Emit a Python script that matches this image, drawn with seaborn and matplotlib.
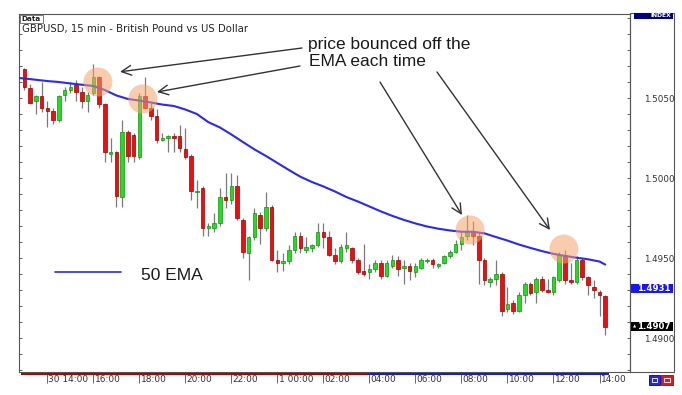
import numpy as np
import pandas as pd
import matplotlib
matplotlib.use("Agg")
import matplotlib.pyplot as plt
import matplotlib.transforms as mtransforms
from matplotlib.patches import Rectangle, Ellipse
from matplotlib.ticker import FixedLocator, MultipleLocator, FormatStrFormatter
import seaborn as sns

sns.set_theme(style="white")
plt.rcParams['font.family'] = ['DejaVu Sans']

# GBPUSD 15 min bars, first bar = 30th 13:00
opens = [1.5068, 1.5056, 1.5048, 1.5051, 1.5044, 1.5042, 1.5036, 1.5052, 1.5055, 1.5058,
         1.5054, 1.5048, 1.5053, 1.5063, 1.5046, 1.5015, 1.5016, 1.4988, 1.5029, 1.5027,
         1.5013, 1.5051, 1.5044, 1.5039, 1.5024, 1.5025, 1.5026, 1.5026, 1.5018, 1.5014,
         1.4991, 1.4994, 1.4969, 1.4969, 1.4972, 1.4988, 1.4986, 1.4995, 1.4974, 1.4953,
         1.4963, 1.4977, 1.4969, 1.4982, 1.4949, 1.4947, 1.4948, 1.4955, 1.4964, 1.4955,
         1.4956, 1.4958, 1.4966, 1.4963, 1.4952, 1.4948, 1.4956, 1.4956, 1.4949, 1.4942,
         1.4941, 1.4943, 1.4947, 1.4939, 1.4945, 1.4949, 1.4944, 1.4945, 1.4941, 1.4944,
         1.4948, 1.4949, 1.4945, 1.4947, 1.4951, 1.4954, 1.4959, 1.4964, 1.4967, 1.4964,
         1.4949, 1.4935, 1.4937, 1.4940, 1.4918, 1.4922, 1.4917, 1.4927, 1.4934, 1.4929,
         1.4937, 1.4930, 1.4929, 1.4936, 1.4952, 1.4936, 1.4935, 1.4949, 1.4938, 1.4932,
         1.4929, 1.4926]
highs = [1.5069, 1.5059, 1.5052, 1.5060, 1.5048, 1.5044, 1.5052, 1.5057, 1.5060, 1.5061,
         1.5057, 1.5054, 1.5071, 1.5064, 1.5047, 1.5025, 1.5017, 1.5036, 1.5030, 1.5028,
         1.5053, 1.5063, 1.5047, 1.5043, 1.5028, 1.5027, 1.5028, 1.5033, 1.5031, 1.5015,
         1.4999, 1.4995, 1.4972, 1.4978, 1.4994, 1.5003, 1.5003, 1.5002, 1.4975, 1.4964,
         1.4981, 1.4979, 1.4991, 1.4983, 1.4955, 1.4953, 1.4958, 1.4966, 1.4966, 1.4963,
         1.4959, 1.4972, 1.4972, 1.4967, 1.4956, 1.4959, 1.4966, 1.4957, 1.4950, 1.4959,
         1.4946, 1.4949, 1.4949, 1.4949, 1.4952, 1.4951, 1.4949, 1.4947, 1.4947, 1.4950,
         1.4950, 1.4950, 1.4947, 1.4952, 1.4955, 1.4961, 1.4966, 1.4977, 1.4973, 1.4966,
         1.4950, 1.4938, 1.4949, 1.4941, 1.4932, 1.4924, 1.4929, 1.4935, 1.4935, 1.4938,
         1.4939, 1.4937, 1.4939, 1.4954, 1.4955, 1.4947, 1.4951, 1.4950, 1.4939, 1.4936,
         1.4930, 1.4927]
lows = [1.5055, 1.5046, 1.5040, 1.5041, 1.5032, 1.5034, 1.5035, 1.5048, 1.5053, 1.5048,
        1.5044, 1.5041, 1.5052, 1.5044, 1.5010, 1.5010, 1.4982, 1.4982, 1.5010, 1.5010,
        1.5012, 1.5043, 1.5036, 1.5022, 1.5023, 1.5016, 1.5016, 1.5016, 1.5012, 1.4986,
        1.4981, 1.4964, 1.4964, 1.4966, 1.4970, 1.4981, 1.4984, 1.4974, 1.4950, 1.4936,
        1.4961, 1.4959, 1.4967, 1.4948, 1.4941, 1.4942, 1.4946, 1.4953, 1.4953, 1.4953,
        1.4954, 1.4957, 1.4956, 1.4951, 1.4946, 1.4947, 1.4954, 1.4947, 1.4940, 1.4939,
        1.4937, 1.4941, 1.4937, 1.4938, 1.4944, 1.4939, 1.4934, 1.4936, 1.4938, 1.4943,
        1.4947, 1.4944, 1.4944, 1.4946, 1.4950, 1.4953, 1.4955, 1.4961, 1.4958, 1.4934,
        1.4933, 1.4932, 1.4933, 1.4914, 1.4916, 1.4915, 1.4916, 1.4922, 1.4927, 1.4922,
        1.4929, 1.4928, 1.4927, 1.4935, 1.4934, 1.4934, 1.4934, 1.4936, 1.4927, 1.4925,
        1.4914, 1.4902]
closes = [1.5057, 1.5047, 1.5051, 1.5044, 1.5042, 1.5036, 1.5051, 1.5055, 1.5057, 1.5054,
          1.5048, 1.5052, 1.5063, 1.5046, 1.5016, 1.5016, 1.4989, 1.5029, 1.5014, 1.5014,
          1.5051, 1.5044, 1.5039, 1.5024, 1.5025, 1.5026, 1.5025, 1.5019, 1.5013, 1.4992,
          1.4992, 1.4969, 1.4970, 1.4972, 1.4988, 1.4986, 1.4995, 1.4975, 1.4954, 1.4963,
          1.4978, 1.4969, 1.4982, 1.4949, 1.4947, 1.4948, 1.4955, 1.4964, 1.4956, 1.4957,
          1.4958, 1.4966, 1.4963, 1.4952, 1.4948, 1.4957, 1.4958, 1.4949, 1.4941, 1.4940,
          1.4943, 1.4947, 1.4939, 1.4947, 1.4949, 1.4943, 1.4945, 1.4942, 1.4945, 1.4949,
          1.4949, 1.4946, 1.4946, 1.4951, 1.4954, 1.4959, 1.4963, 1.4967, 1.4964, 1.4949,
          1.4936, 1.4937, 1.4940, 1.4917, 1.4921, 1.4917, 1.4927, 1.4934, 1.4928, 1.4937,
          1.4930, 1.4929, 1.4938, 1.4952, 1.4936, 1.4935, 1.4949, 1.4938, 1.4933, 1.4930,
          1.4927, 1.4907]

# 50 EMA every second bar
ema_bar = [-1, 0, 2, 4, 6, 8, 10, 12, 14, 16, 18, 20, 22, 24, 26, 28, 30, 32, 34, 36,
           38, 40, 42, 44, 46, 48, 50, 52, 54, 56, 58, 60, 62, 64, 66, 68, 70, 72, 74,
           76, 78, 80, 82, 84, 86, 88, 90, 92, 94, 96, 98, 100, 101]
ema_vals = [1.50625, 1.50622, 1.50614, 1.50606, 1.50600, 1.50591, 1.50583, 1.50575,
            1.50550, 1.50516, 1.50494, 1.50484, 1.50472, 1.50459, 1.50450, 1.50428,
            1.50400, 1.50349, 1.50316, 1.50272, 1.50225, 1.50179, 1.50138, 1.50094,
            1.50050, 1.50008, 1.49975, 1.49947, 1.49916, 1.49881, 1.49853, 1.49822,
            1.49791, 1.49763, 1.49738, 1.49716, 1.49697, 1.49683, 1.49672, 1.49664,
            1.49664, 1.49654, 1.49631, 1.49609, 1.49584, 1.49563, 1.49543, 1.49526,
            1.49513, 1.49502, 1.49492, 1.49478, 1.49459]

tick_bars = [4, 12, 20, 28, 36, 44, 52, 60, 68, 76, 84, 92, 100]
tick_labels = ["30 14:00", "16:00", "18:00", "20:00", "22:00", "1 00:00", "02:00",
               "04:00", "06:00", "08:00", "10:00", "12:00", "14:00"]

price_labels = [1.4900, 1.4950, 1.5000, 1.5050]
marker_price = 1.4931

# bounce points (bar, price) for the circles
bounce_bar = [12.8, 20.6, 77.5, 93.8]
bounce_price = [1.5060, 1.50494, 1.49675, 1.49556]

df = pd.DataFrame({"open": opens, "high": highs, "low": lows, "close": closes})
df["bar"] = np.arange(len(df))
df["up"] = df["close"] >= df["open"]

W, H = 682, 395
fig = plt.figure(figsize=(W / 100, H / 100), dpi=100)
fig.patch.set_facecolor("white")
ax = fig.add_axes([19 / W, 1 - 372 / H, 611 / W, 358 / H])
xmin, xmax = -0.92, 105.3
ymin, ymax = 1.487875, 1.51025
ax.set_xlim(xmin, xmax)
ax.set_ylim(ymin, ymax)
ppx = 611 / (xmax - xmin)
ppy = 358 / (ymax - ymin)


def fx(x):
    return x / W


def fy(y):
    return 1 - y / H


def fig_rect(x0, y0, x1, y1, **kw):
    fig.patches.append(Rectangle((fx(x0), fy(y1)), (x1 - x0) / W, (y1 - y0) / H,
                                 transform=fig.transFigure, **kw))


# wicks
ax.vlines(df["bar"], df["low"], df["high"], color="#7a7a7a", lw=0.9, zorder=2)
# bodies
min_h = 0.00009
up = df[df["up"]]
dn = df[~df["up"]]
ax.bar(up["bar"], np.maximum(up["close"] - up["open"], min_h), bottom=up["open"],
       width=0.62, color="#22dd22", edgecolor="#148f14", lw=0.5, zorder=3)
ax.bar(dn["bar"], np.maximum(dn["open"] - dn["close"], min_h), bottom=dn["close"],
       width=0.62, color="#e81010", edgecolor="#990000", lw=0.5, zorder=3)

# EMA line
sns.lineplot(x=ema_bar, y=ema_vals, ax=ax, color="#2a2aee", lw=1.5, zorder=4)

# bounce circles
r = 14.5
for b, p in zip(bounce_bar, bounce_price):
    ax.add_patch(Ellipse((b, p), 2 * r / ppx, 2 * r / ppy, fc="#f4a36b", ec="none",
                         alpha=0.55, zorder=5))

# axes styling
for s in ax.spines.values():
    s.set_color("#555555")
    s.set_linewidth(0.8)
ax.yaxis.set_major_locator(FixedLocator(price_labels))
ax.yaxis.set_major_formatter(FormatStrFormatter("%.4f"))
ax.yaxis.set_minor_locator(MultipleLocator(0.001))
ax.tick_params(axis="y", which="both", direction="in", left=True, right=True,
               labelleft=False, labelright=True, length=2.5, width=0.6,
               color="#444444", labelsize=6.3, pad=10, labelcolor="#333333")
ax.set_xticks(tick_bars)
ax.set_xticklabels([""] * len(tick_bars))
ax.tick_params(axis="x", direction="out", length=8, width=0.7, color="#666666",
               bottom=True)
ax.set_xlabel("")
ax.set_ylabel("")

blend = mtransforms.blended_transform_factory(ax.transData, fig.transFigure)
for b, lab in zip(tick_bars, tick_labels):
    ax.text(b + 0.2, fy(379.5), lab, transform=blend, ha="left", va="center",
            fontsize=6.5, color="#333333", clip_on=False)

# timeframe bar under the chart
fig_rect(21, 372.6, 368, 374.6, fc="#b00000", ec="none")
fig_rect(368, 372.6, 609, 374.6, fc="#1a1acc", ec="none")

# right panel frame
fig_rect(630, 13, 674, 372, fill=False, ec="#555555", lw=0.8)
fig_rect(634, 12.7, 673, 18.5, fc="#000080", ec="none")
fig.text(fx(671), fy(15.6), "INDEX", ha="right", va="center", fontsize=4.3,
         color="white", fontweight="bold")

# price boxes on the right axis
yblend = mtransforms.blended_transform_factory(fig.transFigure, ax.transData)
box_h = 9 / ppy
fig.patches.append(Rectangle((fx(631), marker_price - box_h / 2), 42 / W, box_h,
                             transform=yblend, fc="#1515ff", ec="none"))
fig.text(fx(671), marker_price, f"{marker_price:.4f}", transform=yblend, ha="right",
         va="center", fontsize=6.2, color="white", fontweight="bold")
last = closes[-1]
fig.patches.append(Rectangle((fx(631), last - box_h / 2), 42 / W, box_h,
                             transform=yblend, fc="black", ec="none"))
fig.text(fx(671), last, f"{last:.4f}", transform=yblend, ha="right",
         va="center", fontsize=6.2, color="white", fontweight="bold")
fig.text(fx(632.5), last, "\u25b2", transform=yblend, ha="left", va="center",
         fontsize=3, color="white")

# bottom right buttons
fig_rect(649, 374.5, 660, 384.5, fc="#2b2bcc", ec="#0000aa", lw=0.6)
fig_rect(661, 374.5, 673, 384.5, fc="#d02020", ec="#aa0000", lw=0.6)
fig_rect(652, 377.5, 657, 381.5, fill=False, ec="white", lw=0.6)
fig_rect(664, 377.5, 670, 381.5, fill=False, ec="white", lw=0.6)

# chart header
fig_rect(20, 14.5, 43, 22.5, fc="white", ec="#666666", lw=0.6)
fig.text(fx(31.5), fy(18.6), "Data", ha="center", va="center", fontsize=5.2,
         fontweight="bold", color="#222222")
fig.text(fx(21.5), fy(29), "GBPUSD, 15 min - British Pound vs US Dollar",
         ha="left", va="center", fontsize=7.3, color="#222222")

# annotation
ann_font = ["Liberation Sans", "DejaVu Sans"]
fig.text(fx(308), fy(48.5), "price bounced off the", ha="left", va="baseline",
         fontsize=12.5, family=ann_font, color="#1a1a1a")
fig.text(fx(309), fy(66.5), "EMA each time", ha="left", va="baseline",
         fontsize=12.5, family=ann_font, color="#1a1a1a")
arrows = [((302, 48), (120, 71.8)), ((300, 66), (157, 92)),
          ((380, 82), (462, 215)), ((437, 72), (550, 230))]
for tail, head in arrows:
    fig.add_artist(matplotlib.patches.FancyArrowPatch(
        (fx(tail[0]), fy(tail[1])), (fx(head[0]), fy(head[1])),
        transform=fig.transFigure, arrowstyle="->,head_length=0.7,head_width=0.35",
        mutation_scale=10, color="#333333", lw=1.0, shrinkA=0, shrinkB=0))

# legend
fig.add_artist(matplotlib.lines.Line2D([fx(55), fx(121)], [fy(272), fy(272)],
                                       color="#2a2aee", lw=1.2))
fig.text(fx(141), fy(279.5), "50 EMA", ha="left", va="baseline", fontsize=12.5,
         family=ann_font, color="#1a1a1a")

fig.savefig("out.png", dpi=100)
